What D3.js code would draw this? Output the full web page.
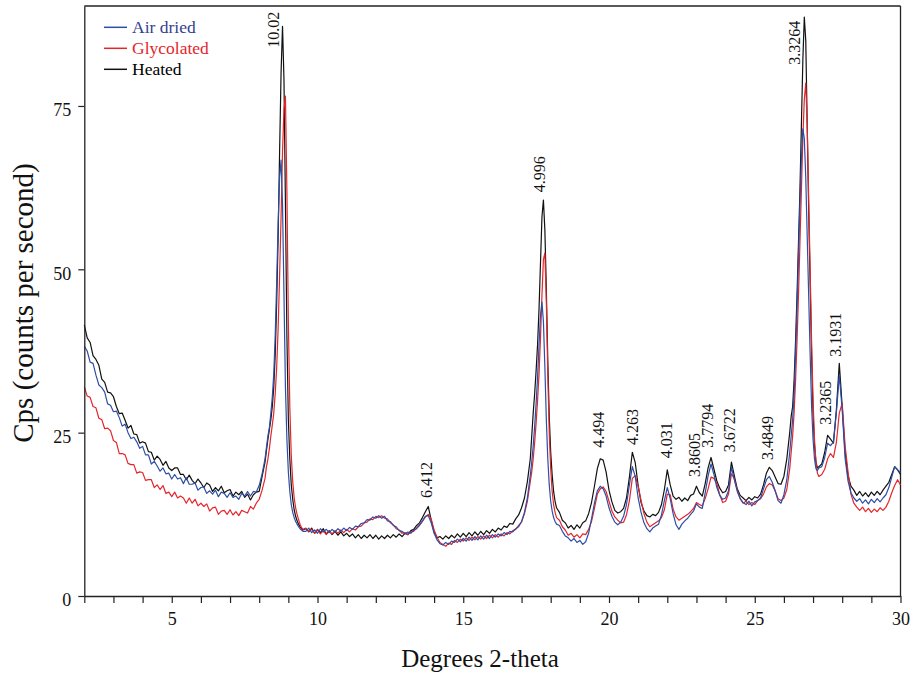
<!DOCTYPE html>
<html><head><meta charset="utf-8">
<script src="https://cdn.jsdelivr.net/npm/d3@7"></script>
<style>
body{margin:0;background:#fff}
svg{display:block}
text{font-family:"Liberation Serif","Times New Roman",serif}
</style>
</head><body>
<svg id="chart" width="912" height="674"></svg>
<script>
// ---- DATA ----
const angles = [
2.0,2.1,2.2,2.3,2.4,2.5,2.6,2.7,2.8,2.9,
3.0,3.1,3.2,3.3,3.4,3.5,3.6,3.7,3.8,3.9,
4.0,4.1,4.2,4.3,4.4,4.5,4.6,4.7,4.8,4.9,
5.0,5.1,5.2,5.3,5.4,5.5,5.6,5.7,5.8,5.9,
6.0,6.1,6.2,6.3,6.4,6.5,6.6,6.7,6.8,6.9,
7.0,7.1,7.2,7.3,7.4,7.5,7.6,7.7,7.8,7.9,
8.0,8.1,
8.20,8.25,8.30,8.35,8.40,8.45,8.50,8.55,8.60,8.65,8.70,8.75,8.80,8.85,8.90,8.95,9.00,9.05,9.10,9.15,9.20,9.25,9.30,9.35,9.40,9.45,9.50,
9.6,9.7,9.8,9.9,10.0,10.1,10.2,10.3,10.4,10.5,
10.6,10.7,10.8,10.9,11.0,11.1,11.2,11.3,11.4,11.5,
11.6,11.7,11.8,11.9,12.0,12.1,12.2,12.3,12.4,12.5,
12.6,12.7,12.8,12.9,13.0,13.1,13.2,13.3,13.4,13.5,
13.6,13.7,13.8,13.9,14.0,14.1,14.2,14.3,14.4,14.5,
14.6,14.7,14.8,14.9,15.0,15.1,15.2,15.3,15.4,15.5,
15.6,15.7,15.8,15.9,16.0,16.1,16.2,16.3,16.4,16.5,
16.6,16.7,16.8,16.9,17.0,17.1,17.2,17.3,
17.35,17.40,17.45,17.50,17.55,17.60,17.65,17.70,17.75,17.80,17.85,17.90,17.95,18.00,18.05,18.10,18.15,18.20,
18.3,18.4,18.5,18.6,18.7,18.8,18.9,19.0,19.1,19.2,
19.3,19.4,19.5,19.6,19.7,19.8,19.9,20.0,20.1,20.2,
20.3,20.4,20.5,20.6,20.7,20.8,20.9,21.0,21.1,21.2,
21.3,21.4,21.5,21.6,21.7,21.8,21.9,22.0,22.1,22.2,
22.3,22.4,22.5,22.6,22.7,22.8,22.9,23.0,23.1,23.2,
23.3,23.4,23.5,23.6,23.7,23.8,23.9,24.0,24.1,24.2,
24.3,24.4,24.5,24.6,24.7,24.8,24.9,25.0,25.1,25.2,
25.3,25.4,25.5,25.6,25.7,25.8,25.9,26.0,26.1,26.2,
26.25,26.30,26.35,26.40,26.45,26.50,26.55,26.60,26.65,26.70,26.75,26.80,26.85,26.90,26.95,27.00,27.05,27.10,27.15,27.20,
27.3,27.4,27.5,27.6,27.7,27.8,27.9,28.0,28.1,28.2,
28.3,28.4,28.5,28.6,28.7,28.8,28.9,29.0,29.1,29.2,
29.3,29.4,29.5,29.6,29.7,29.8,29.9,30.0
];

const heated = [
41.5,39.5,38.8,36.8,36.2,35.3,33.2,32.7,31.2,31.1,
30.5,29.0,27.9,28.0,26.9,25.7,26.1,24.8,24.7,23.4,
23.6,23.4,22.1,22.0,20.8,21.4,20.9,20.0,20.6,19.6,
19.2,19.6,19.6,18.6,18.6,17.8,18.5,17.7,17.2,17.9,
17.3,16.6,17.3,17.0,16.0,16.6,16.1,16.8,15.8,16.1,
16.3,15.3,15.9,15.5,16.0,15.1,15.6,14.7,15.5,15.9,
16.0,18.3,
20.5,22.3,24.0,25.5,27.0,29.0,32.0,37.0,45.0,55.0,68.0,80.0,87.2,79.0,60.0,40.0,27.0,21.0,17.0,14.8,13.2,12.2,11.5,11.0,10.6,10.3,10.1,
10.3,9.8,10.4,9.6,10.2,9.7,10.3,9.5,10.0,9.4,
9.9,9.3,9.8,9.2,9.6,9.1,9.5,8.9,9.4,8.8,
9.3,8.9,9.4,8.8,9.3,8.7,9.2,8.8,9.3,8.9,
9.4,9.0,9.5,9.1,9.6,9.4,10.0,10.2,10.8,11.2,
12.0,12.9,13.7,11.6,9.8,8.9,9.1,8.7,9.2,8.8,
9.3,8.9,9.5,9.0,9.6,9.1,9.7,9.2,9.8,9.3,
9.9,9.4,10.0,9.6,10.2,9.8,10.4,10.1,10.7,10.5,
11.1,11.0,11.8,12.4,13.5,15.0,17.5,21.0,
24.5,28.0,31.0,34.5,38.5,44.0,51.0,58.0,60.6,56.0,47.0,36.0,27.5,22.0,18.5,16.0,14.5,13.5,
12.8,11.6,11.2,10.4,10.8,10.2,10.9,10.4,11.2,11.5,
12.6,14.3,16.8,19.5,21.0,20.8,19.0,16.2,14.4,13.1,
12.7,12.9,13.4,15.0,18.2,22.0,20.4,16.9,14.3,13.0,
12.3,12.1,12.5,12.3,12.8,14.0,16.3,19.3,17.0,15.3,
14.8,15.1,14.5,15.0,14.6,15.4,15.6,16.8,15.8,15.3,
17.2,19.6,21.2,19.4,17.6,16.5,15.8,16.0,17.0,20.5,
18.4,16.4,15.4,15.0,14.6,15.1,14.7,15.2,15.0,15.6,
17.0,18.8,19.7,19.2,18.2,17.2,17.1,18.3,21.0,25.0,
27.5,29.0,33.0,39.0,46.0,54.0,62.0,72.0,82.0,88.6,85.0,72.0,59.0,48.0,37.0,28.0,23.0,20.5,19.6,19.8,
20.2,22.0,24.6,24.0,23.4,28.5,35.6,29.0,22.0,18.4,
16.8,16.2,15.4,16.0,15.3,15.8,15.2,15.9,15.4,16.0,
15.5,16.2,16.8,17.4,18.6,19.8,19.3,18.6
];

const airDried = [
38.2,37.5,35.8,35.6,33.8,32.3,31.9,31.2,29.4,29.2,
28.2,28.3,27.3,26.0,26.3,25.0,24.1,24.3,23.6,22.6,
22.9,21.6,21.6,20.2,20.6,19.9,19.1,19.6,18.7,18.8,
17.9,18.6,17.9,18.1,17.2,18.1,17.1,17.1,17.3,16.2,
16.6,16.7,15.7,16.1,15.6,16.2,15.2,15.9,15.7,15.1,
15.8,15.1,15.3,14.8,15.7,15.3,16.0,15.3,16.0,15.9,
16.9,18.7,
21.0,22.8,24.5,25.8,28.0,30.5,34.0,40.0,48.0,57.0,64.0,66.7,60.0,46.0,32.0,24.0,19.0,16.0,14.0,12.8,12.0,11.4,11.0,10.6,10.3,10.1,9.9,
9.9,10.4,9.7,10.1,9.6,10.3,9.8,10.2,9.7,10.2,
9.8,10.3,9.9,10.4,10.0,10.5,10.2,10.7,10.6,11.1,
11.2,11.7,11.6,12.1,11.9,12.3,11.9,12.2,11.5,11.4,
10.8,10.6,10.0,9.9,9.5,9.8,9.6,10.1,10.3,10.9,
11.5,12.2,12.3,11.2,9.6,8.6,8.0,7.8,8.2,7.9,
8.4,8.2,8.7,8.3,8.8,8.4,9.0,8.5,9.1,8.6,
9.2,8.7,9.3,8.8,9.4,9.0,9.5,9.2,9.7,9.4,
9.9,9.8,10.3,10.6,11.4,12.8,15.0,18.5,
20.5,23.0,26.0,29.5,33.5,38.5,43.0,45.0,42.0,35.0,27.0,21.0,17.0,14.5,13.0,12.0,11.4,11.0,
10.8,9.9,9.2,8.9,8.4,8.8,8.2,8.5,7.9,8.3,
9.6,11.8,14.2,16.1,16.8,16.4,15.3,13.5,12.2,11.3,
10.9,11.3,12.2,14.0,17.0,19.8,18.3,15.0,12.8,11.2,
10.3,9.8,10.4,10.7,11.0,12.4,14.6,16.6,14.9,12.6,
10.9,10.2,11.0,11.5,11.9,12.5,13.0,14.1,13.6,13.4,
15.8,18.4,20.2,18.6,16.6,15.4,14.8,15.0,16.1,19.7,
17.8,16.0,14.9,14.3,14.0,14.5,13.8,14.4,14.6,15.0,
16.4,17.8,18.3,17.4,16.1,14.6,14.2,15.5,17.8,22.0,
24.5,27.0,31.0,37.0,44.0,52.0,60.0,67.0,71.5,70.0,64.0,55.0,46.0,37.0,29.0,24.0,21.0,19.5,19.2,19.6,
19.8,21.2,23.4,23.0,23.6,28.0,33.8,28.5,21.0,17.6,
15.8,15.0,14.5,14.9,14.2,14.7,14.1,14.8,14.3,14.9,
14.4,15.0,15.5,16.6,18.2,19.8,19.3,18.9
];

const glycolated = [
32.0,30.6,30.4,29.0,28.8,27.2,27.0,25.6,25.7,25.3,
23.8,23.5,21.8,21.8,21.6,20.3,20.1,20.1,18.8,19.0,
18.9,17.7,17.8,17.8,16.6,17.0,16.3,16.9,15.7,15.9,
15.2,15.9,15.0,15.3,15.0,14.2,15.0,14.2,14.8,13.8,
14.2,13.7,14.1,13.0,13.5,13.6,12.5,13.0,13.1,12.5,
13.2,12.4,12.9,12.3,13.1,12.9,12.7,13.7,13.3,14.2,
14.8,16.2,
18.0,19.8,21.0,22.6,24.5,26.2,28.0,31.0,35.0,41.0,49.0,58.0,68.0,74.5,76.5,62.0,42.0,29.0,21.5,17.5,15.0,13.5,12.5,11.7,11.0,10.5,10.2,
10.4,9.9,10.2,9.6,10.1,9.5,10.0,9.4,9.9,9.5,
10.0,9.6,10.1,9.7,10.2,9.8,10.3,10.1,10.6,10.7,
11.2,11.3,11.8,11.7,12.2,12.0,12.3,11.9,11.8,11.2,
10.9,10.3,10.1,9.6,9.7,9.4,9.8,9.9,10.4,10.8,
11.4,12.1,12.5,11.8,10.1,9.0,8.2,7.9,7.6,8.1,
7.9,8.5,8.2,8.7,8.4,8.9,8.5,9.0,8.6,9.1,
8.7,9.2,8.8,9.3,8.9,9.4,9.0,9.5,9.2,9.7,
9.5,10.0,10.2,10.8,11.3,12.6,14.5,17.5,
19.0,21.0,23.5,26.5,30.0,34.0,39.5,46.0,51.5,52.5,45.0,34.0,25.0,19.5,16.0,14.0,12.8,12.0,
11.6,10.6,10.1,9.3,9.6,9.0,9.4,8.9,9.5,9.4,
10.2,11.4,13.4,15.6,16.4,16.7,16.0,14.5,13.0,12.1,
11.6,11.2,11.3,12.4,14.6,18.0,18.4,16.8,14.6,12.6,
11.3,10.6,10.9,11.2,11.5,12.0,13.2,15.6,15.5,13.3,
12.1,11.6,11.9,12.2,12.5,12.9,13.4,14.3,14.0,13.8,
14.9,16.4,18.2,18.0,17.2,15.5,14.3,14.5,15.6,18.7,
17.9,16.2,14.9,14.2,14.5,14.0,14.3,14.0,14.6,14.9,
15.6,16.7,17.2,17.0,16.1,14.9,14.6,15.0,16.3,19.5,
22.0,24.5,28.0,33.0,39.0,46.0,54.0,62.0,70.0,76.0,78.5,72.0,61.0,50.0,39.0,30.0,24.0,20.5,18.8,18.3,
18.6,19.4,21.0,21.8,21.2,23.5,28.0,29.5,23.0,19.0,
15.6,14.2,13.6,13.1,13.6,12.9,13.4,12.8,13.3,12.9,
13.5,13.1,13.6,14.5,15.8,16.9,17.8,17.0
];

const seriesNames = ["Air dried", "Glycolated", "Heated"];
const xTickLabels = [5, 10, 15, 20, 25, 30];
const xMinorTicks = [2,3,4,5,6,7,8,9,10,11,12,13,14,15,16,17,18,19,20,21,22,23,24,25,26,27,28,29,30];
const yTickLabels = [0, 25, 50, 75];

// d-spacing labels: text, angle of label anchor, cps of label bottom
const peakLabels = ["10.02","6.412","4.996","4.494","4.263","4.031","3.8605","3.7794","3.6722","3.4849","3.3264","3.2365","3.1931"];
const peakLabelAngles = [8.675,13.92,17.79,19.84,20.98,22.15,23.11,23.56,24.31,25.61,26.54,27.63,27.97];
const peakLabelCps = [83.9,15.0,61.8,22.7,23.1,21.1,18.2,22.7,22.0,20.8,81.3,26.2,36.6];

// ---- checks ----
[heated, airDried, glycolated].forEach((s, i) => {
  if (s.length !== angles.length) throw new Error("length mismatch series " + i + ": " + s.length + " vs " + angles.length);
});

// ---- CHART ----
const svg = d3.select("#chart");
const x = d3.scaleLinear().domain([2, 30]).range([84.3, 900.5]);
const y = d3.scaleLinear().domain([0, 90.3]).range([596, 6]);

const colors = {"Air dried": "#2d4ea6", "Glycolated": "#e4262b", "Heated": "#111111"};
const textColors = {"Air dried": "#34418e", "Glycolated": "#e4262b", "Heated": "#000000"};
const seriesData = {"Air dried": airDried, "Glycolated": glycolated, "Heated": heated};

const line = d3.line().x(d => x(d[0])).y(d => y(d[1]));

// frame (top and right)
svg.append("line").attr("x1", x(2)).attr("x2", x(30)).attr("y1", y.range()[1]).attr("y2", y.range()[1])
  .attr("stroke", "#222").attr("stroke-width", 1.3);
svg.append("line").attr("x1", x(30)).attr("x2", x(30)).attr("y1", y.range()[0]).attr("y2", y.range()[1])
  .attr("stroke", "#222").attr("stroke-width", 1.3);

// series (heated under, air dried on top)
["Heated", "Glycolated", "Air dried"].forEach(name => {
  const vals = seriesData[name];
  const pts = angles.map((a, i) => [a, vals[i]]);
  svg.append("path").datum(pts).attr("d", line)
    .attr("fill", "none").attr("stroke", colors[name]).attr("stroke-width", 1.2)
    .attr("stroke-linejoin", "round");
});

// axes
const xAxis = d3.axisBottom(x).tickValues(xMinorTicks).tickSize(7).tickSizeOuter(0)
  .tickFormat(d => xTickLabels.includes(d) ? d : "");
const gx = svg.append("g").attr("transform", `translate(0,${y(0)})`).call(xAxis);
gx.select(".domain").attr("stroke", "#222").attr("stroke-width", 1.3);
gx.selectAll(".tick line").attr("stroke", "#222").attr("stroke-width", 1.2);
gx.selectAll(".tick text").attr("font-size", 18).attr("fill", "#111").attr("dy", "1.05em")
  .attr("font-family", "Liberation Serif");

const yAxis = d3.axisLeft(y).tickValues(yTickLabels).tickSize(6).tickSizeOuter(0).tickPadding(7);
const gy = svg.append("g").attr("transform", `translate(${x(2)},0)`).call(yAxis);
gy.select(".domain").attr("stroke", "#222").attr("stroke-width", 1.3);
gy.selectAll(".tick line").attr("stroke", "#222").attr("stroke-width", 1.2);
gy.selectAll(".tick text").attr("font-size", 18).attr("fill", "#111").attr("dy", "0.55em")
  .attr("font-family", "Liberation Serif");

// axis titles
svg.append("text").attr("x", 480).attr("y", 667).attr("text-anchor", "middle")
  .attr("font-size", 25).attr("fill", "#111").text("Degrees 2-theta");
svg.append("text").attr("transform", "translate(33,303) rotate(-90)").attr("text-anchor", "middle")
  .attr("font-size", 29).attr("fill", "#111").text("Cps (counts per second)");

// peak labels
svg.selectAll("text.peak").data(peakLabels).join("text").attr("class", "peak")
  .attr("transform", (d, i) => `translate(${x(peakLabelAngles[i])},${y(peakLabelCps[i])}) rotate(-90)`)
  .attr("text-anchor", "start").attr("font-size", 16).attr("fill", "#111").text(d => d);

// legend
const lg = svg.append("g");
seriesNames.forEach((name, i) => {
  const ly = 27.3 + i * 21;
  lg.append("line").attr("x1", 104).attr("x2", 127).attr("y1", ly).attr("y2", ly)
    .attr("stroke", colors[name]).attr("stroke-width", 1.5);
  lg.append("text").attr("x", 132).attr("y", ly + 5.5).attr("font-size", 17.5)
    .attr("fill", textColors[name]).text(name);
});
</script>
</body></html>
